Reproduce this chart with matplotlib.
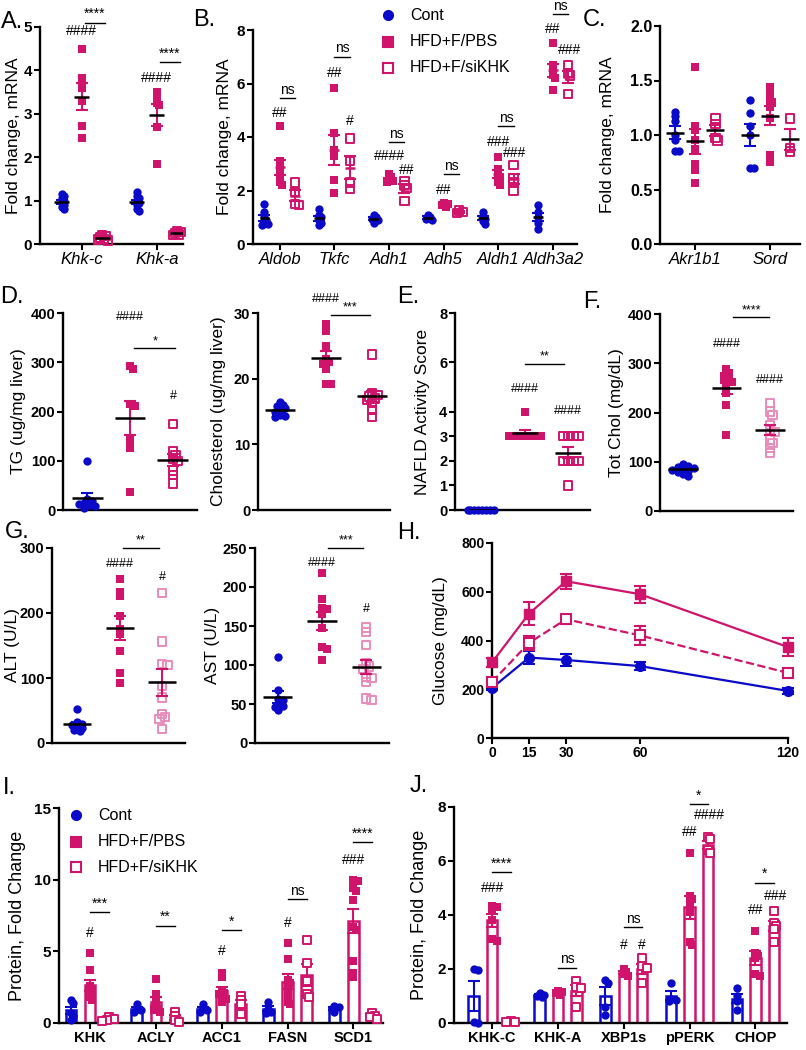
import numpy as np
import matplotlib
matplotlib.use("Agg")
import matplotlib.pyplot as plt
from matplotlib.lines import Line2D

plt.rcParams["font.family"] = ["Liberation Sans", "DejaVu Sans"]

BLUE = "#0a0ac8"
MAG = "#d0146c"
PINK = "#ea8cba"

# ---------------- data ----------------
# A. Khk isoforms, mRNA fold change
a_genes = ["Khk-c", "Khk-a"]
a_cont = [[1.15, 1.1, 1.05, 1.0, 0.95, 0.9, 0.85, 0.8],
          [1.2, 1.1, 1.05, 1.0, 0.95, 0.9, 0.8, 0.75]]
a_pbs = [[4.5, 3.82, 3.6, 3.3, 2.72, 2.45],
         [3.5, 3.35, 3.25, 3.2, 2.7, 1.85]]
a_si = [[0.2, 0.18, 0.15, 0.12, 0.1, 0.08],
        [0.3, 0.28, 0.25, 0.22, 0.2]]

# B. fructose metabolism genes
b_genes = ["Aldob", "Tkfc", "Adh1", "Adh5", "Aldh1", "Aldh3a2"]
b_cont = [[1.5, 1.2, 1.0, 0.9, 0.8, 0.75, 0.7],
          [1.3, 1.1, 1.0, 0.9, 0.8, 0.7],
          [1.1, 1.0, 0.95, 0.9, 0.8],
          [1.1, 1.0, 0.95, 0.9],
          [1.2, 1.05, 0.95, 0.85, 0.75],
          [1.45, 1.2, 1.0, 0.8, 0.55]]
b_pbs = [[4.4, 3.1, 2.9, 2.7, 2.5, 2.3, 2.2],
         [5.85, 4.15, 3.5, 3.3, 2.4, 1.9],
         [2.6, 2.5, 2.4, 2.35, 2.3],
         [1.55, 1.5, 1.45, 1.4],
         [3.25, 2.8, 2.6, 2.5, 2.3, 2.2],
         [7.5, 6.7, 6.5, 6.3, 6.2, 5.75]]
b_si = [[2.3, 1.95, 1.5, 1.45],
        [3.95, 3.1, 2.3, 2.05],
        [2.35, 2.2, 2.1, 1.6],
        [1.25, 1.2, 1.15],
        [2.95, 2.45, 2.3, 2.0],
        [6.7, 6.4, 6.3, 5.6]]

# C. polyol pathway
c_genes = ["Akr1b1", "Sord"]
c_cont = [[1.21, 1.17, 1.13, 1.0, 0.95, 0.85, 0.85],
          [1.32, 1.2, 1.08, 1.0, 0.7, 0.7]]
c_pbs = [[1.62, 1.08, 1.05, 0.95, 0.87, 0.73, 0.68, 0.56],
         [1.44, 1.38, 1.32, 1.3, 1.26, 1.16, 0.82, 0.75]]
c_si = [[1.15, 1.1, 0.95, 0.97],
        [1.15, 0.88, 0.85]]

# D. liver lipids
tg_cont = [100, 22, 18, 15, 12, 10, 8, 5]
tg_pbs = [293, 286, 216, 211, 143, 126, 37]
tg_si = [174, 119, 112, 104, 100, 80, 71, 54]
chol_cont = [16.5, 16.0, 15.8, 15.5, 15.2, 15.0, 14.5, 14.3, 14.2]
chol_pbs = [28.3, 27.3, 25.0, 23.0, 22.5, 22.3, 21.4, 19.2, 19.2]
chol_si = [23.7, 17.8, 17.5, 17.3, 17.0, 16.8, 16.3, 15.2, 14.2]

# E. NAFLD activity score
nas_cont = [0, 0, 0, 0, 0, 0, 0, 0]
nas_pbs = [4, 3, 3, 3, 3, 3, 3, 3]
nas_si = [3, 3, 3, 3, 2, 2, 2, 2, 1]

# F. plasma total cholesterol
tc_cont = [95, 92, 90, 88, 86, 84, 82, 80, 76, 72]
tc_pbs = [288, 280, 275, 270, 265, 262, 255, 240, 215, 155]
tc_si = [219, 202, 195, 175, 165, 161, 145, 138, 128, 118]

# G. liver enzymes
alt_cont = [53, 32, 30, 28, 25, 23, 20, 18]
alt_pbs = [253, 233, 226, 195, 176, 168, 142, 107, 93]
alt_si = [231, 156, 122, 120, 88, 70, 45, 40, 37, 22]
ast_cont = [110, 68, 57, 55, 50, 48, 46, 42]
ast_pbs = [218, 184, 173, 172, 165, 147, 123, 121, 106]
ast_si = [148, 142, 126, 102, 98, 95, 85, 83, 78, 57, 55]

# H. glucose tolerance
h_time = [0, 15, 30, 60, 120]
h_cont = [205, 330, 320, 295, 193]
h_cont_err = [10, 28, 25, 18, 14]
h_pbs = [310, 510, 643, 590, 373]
h_pbs_err = [20, 48, 30, 35, 38]
h_si = [230, 390, 487, 421, 267]
h_si_err = [12, 30, 15, 40, 15]

# I. lipogenic proteins
i_prot = ["KHK", "ACLY", "ACC1", "FASN", "SCD1"]
i_cont = [[1.6, 1.4, 0.7, 0.5, 0.2], [1.3, 1.0, 0.9, 0.8], [1.3, 1.0, 0.9, 0.8],
          [1.5, 1.0, 0.8, 0.7], [1.2, 1.1, 1.0, 0.8]]
i_pbs = [[4.85, 3.7, 2.6, 2.4, 2.2, 2.0, 1.8, 1.6],
         [3.05, 2.0, 1.5, 1.2, 1.0, 0.9, 0.8],
         [3.5, 3.2, 2.3, 2.1, 2.0, 1.8, 1.7, 1.5],
         [5.55, 4.45, 3.0, 2.8, 2.5, 2.0, 1.5, 1.3],
         [10.0, 9.9, 9.4, 9.2, 8.6, 6.7, 6.5, 4.3, 3.5, 3.2]]
i_si = [[0.4, 0.3, 0.2, 0.15], [0.8, 0.5, 0.2, 0.1], [1.9, 1.6, 1.3, 0.6],
        [5.8, 4.2, 2.9, 2.0, 1.8], [0.7, 0.5, 0.4, 0.3]]

# J. KHK and ER stress proteins
j_prot = ["KHK-C", "KHK-A", "XBP1s", "pPERK", "CHOP"]
j_cont = [[2.0, 1.95, 0.05, 0.0], [1.1, 1.05, 1.0, 0.95], [1.6, 1.5, 0.6, 0.3],
          [1.5, 0.9, 0.85, 0.8], [1.3, 1.0, 0.8, 0.5]]
j_pbs = [[4.35, 4.3, 4.2, 3.8, 3.1, 3.05], [1.2, 1.15, 1.1, 1.05], [2.0, 1.9, 1.8, 1.75],
         [6.3, 4.7, 4.6, 4.4, 4.1, 3.0, 2.9], [3.4, 2.6, 2.5, 2.4, 1.8, 1.75]]
j_si = [[0.08, 0.05, 0.03], [1.55, 1.35, 1.3, 0.6], [2.4, 2.1, 2.05, 1.5],
        [6.9, 6.8, 6.4, 6.3], [4.15, 3.7, 3.6, 3.5, 3.0]]

# ---------------- helpers ----------------
W, H = 806, 1050
fig = plt.figure(figsize=(W / 100, H / 100), dpi=100)


def make_ax(x0, x1, y0, y1, ylim, yticks, ylabel, lab_x, xlim,
            tick_fs=10.5, lab_fs=12.5, fmt="{:g}"):
    ax = fig.add_axes([x0 / W, 1 - y1 / H, (x1 - x0) / W, (y1 - y0) / H])
    ax.spines[["top", "right"]].set_visible(False)
    ax.spines[["left", "bottom"]].set_linewidth(1.7)
    ax.tick_params(width=1.5, length=4, pad=1.5)
    ax.set_ylim(*ylim)
    ax.set_xlim(*xlim)
    ax.set_yticks(yticks, [fmt.format(t) for t in yticks],
                  fontweight="bold", fontsize=tick_fs)
    ax.set_xticks([])
    ax.set_ylabel(ylabel, fontsize=lab_fs)
    ax.yaxis.set_label_coords((lab_x + 9 - x0) / (x1 - x0), 0.5)
    return ax


def swarm_x(ax, xc, vals, dot=8.0, min_frac=0.5, step_frac=0.33):
    vals = np.asarray(vals, float)
    pts = ax.transData.transform(np.column_stack([np.full(len(vals), xc), vals]))
    cx0, ys = pts[0, 0], pts[:, 1]
    placed, xs = [], np.empty(len(vals))
    for i in np.argsort(-vals, kind="stable"):
        for k in [0, 1, -1, 2, -2, 3, -3, 4, -4, 5, -5, 6, -6, 7, -7]:
            cx = cx0 + k * dot * step_frac
            if all(np.hypot(cx - px, ys[i] - py) >= dot * min_frac for px, py in placed):
                break
        placed.append((cx, ys[i]))
        xs[i] = cx
    return ax.transData.inverted().transform(np.column_stack([xs, ys]))[:, 0]


def dots(ax, xc, vals, color, marker, filled, hw, mean_color="black",
         err_color=None, ms=6, cap=4, tight=False):
    vals = np.asarray(vals, float)
    if tight:
        xs = swarm_x(ax, xc, vals, min_frac=0.35, step_frac=0.25)
    else:
        xs = swarm_x(ax, xc, vals)
    ax.scatter(xs, vals, s=ms ** 2, marker=marker,
               facecolors=color if filled else "none", edgecolors=color,
               linewidths=0 if filled else 1.4, zorder=3, clip_on=False)
    m = vals.mean()
    se = vals.std(ddof=1) / np.sqrt(len(vals))
    ax.errorbar([xc], [m], yerr=[se], color=err_color or color, lw=1.5,
                capsize=cap, capthick=1.5, zorder=4)
    ax.plot([xc - hw, xc + hw], [m, m], color=mean_color, lw=1.8, zorder=5,
            solid_capstyle="butt")


def bars(ax, xc, vals, color, marker, filled, width):
    vals = np.asarray(vals, float)
    m = vals.mean()
    se = vals.std(ddof=1) / np.sqrt(len(vals))
    ax.bar(xc, m, width=width, facecolor="white", edgecolor=color, lw=1.8, zorder=2)
    ax.errorbar([xc], [m], yerr=[se], color=color, lw=1.5, capsize=4,
                capthick=1.5, zorder=3)
    xs = swarm_x(ax, xc, vals, dot=8.0, min_frac=0.4, step_frac=0.28)
    ax.scatter(xs, vals, s=36, marker=marker,
               facecolors=color if filled else "white", edgecolors=color,
               linewidths=0 if filled else 1.4, zorder=4, clip_on=False)


def hashmark(ax, x, y, s, fs=10):
    ax.text(x, y, s, ha="center", va="center", fontsize=fs, clip_on=False)


def bracket(ax, x1, x2, y, s, fs=10):
    ax.plot([x1, x2], [y, y], color="black", lw=1, clip_on=False)
    ax.annotate(s, ((x1 + x2) / 2, y), xytext=(0, 1), textcoords="offset points",
                ha="center", va="bottom", fontsize=fs, annotation_clip=False)


def letter(x, y, s):
    fig.text(x / W, 1 - y / H, s, fontsize=17, ha="left", va="center")


def legend_at(x_m, x_t, ys, fs=11.5):
    items = [("o", BLUE, BLUE, "Cont"), ("s", MAG, MAG, "HFD+F/PBS"),
             ("s", "none", MAG, "HFD+F/siKHK")]
    for (mk, fc, ec, lab), y in zip(items, ys):
        fig.add_artist(Line2D([x_m / W], [1 - y / H], marker=mk, ms=6.5, mfc=fc,
                              mec=ec, mew=1.5, ls="none",
                              transform=fig.transFigure))
        fig.text(x_t / W, 1 - y / H, lab, fontsize=fs, va="center")


def gene_panel(ax, genes, cont, pbs, si, off, hw, mean_pbs="black"):
    ax.set_xticks(range(len(genes)), genes, fontstyle="italic", fontsize=12)
    for i in range(len(genes)):
        dots(ax, i - off, cont[i], BLUE, "o", True, hw, mean_color="black", tight=True)
        dots(ax, i, pbs[i], MAG, "s", True, hw, mean_color=mean_pbs, tight=True)
        dots(ax, i + off, si[i], MAG, "s", False, hw, mean_color=mean_pbs, tight=True)


# ---------------- A ----------------
ax = make_ax(40, 183, 27, 244, (0, 5), [0, 1, 2, 3, 4, 5], "Fold change, mRNA", 12,
             (-0.56, 1.35), tick_fs=11)
gene_panel(ax, a_genes, a_cont, a_pbs, a_si, 0.27, 0.1)
hashmark(ax, 0, 4.9, "####")
bracket(ax, 0.04, 0.31, 5.1, "****")
hashmark(ax, 1, 3.83, "####")
bracket(ax, 1.04, 1.31, 4.2, "****")
letter(1, 22, "A.")

# ---------------- B ----------------
ax = make_ax(253, 577, 30, 244, (0, 8), [0, 2, 4, 6, 8], "Fold change, mRNA", 223,
             (-0.49, 5.44), tick_fs=11)
gene_panel(ax, b_genes, b_cont, b_pbs, b_si, 0.28, 0.09, mean_pbs=MAG)
for x, y, s in [(0, 4.9, "##"), (1, 6.4, "##"), (1.28, 4.6, "#"), (2, 3.3, "####"),
                (2.33, 2.75, "##"), (3, 2.0, "##"), (4, 3.8, "###"),
                (4.3, 3.4, "###"), (5, 8.05, "##"), (5.3, 7.26, "###")]:
    hashmark(ax, x, y, s)
for i, y in enumerate([5.45, 7.0, 3.8, 2.6, 4.4, 8.6]):
    bracket(ax, i, i + 0.28, y, "ns")
legend_at(388, 410, [15, 42, 68])
letter(193, 20, "B.")

# ---------------- C ----------------
ax = make_ax(660, 800, 26, 244, (0, 2), [0, 0.5, 1.0, 1.5, 2.0], "Fold change, mRNA",
             606, (-0.47, 1.4), tick_fs=11.5, fmt="{:.1f}")
gene_panel(ax, c_genes, c_cont, c_pbs, c_si, 0.27, 0.12)
letter(583, 20, "C.")

# ---------------- D ----------------
ax = make_ax(63, 197, 313, 510, (0, 400), [0, 100, 200, 300, 400], "TG (ug/mg liver)",
             17, (-0.56, 2.56))
dots(ax, 0, tg_cont, BLUE, "o", True, 0.36)
dots(ax, 1, tg_pbs, MAG, "s", True, 0.36)
dots(ax, 2, tg_si, MAG, "s", False, 0.36)
hashmark(ax, 1, 391, "####", 9)
hashmark(ax, 2, 232, "#", 9)
bracket(ax, 1.1, 2.05, 328, "*", 9)
letter(0, 297, "D.")

ax = make_ax(258, 390, 313, 510, (0, 30), [0, 10, 20, 30], "Cholesterol (ug/mg liver)",
             217, (-0.48, 2.39))
dots(ax, 0, chol_cont, BLUE, "o", True, 0.33)
dots(ax, 1, chol_pbs, MAG, "s", True, 0.33)
dots(ax, 2, chol_si, MAG, "s", False, 0.33)
hashmark(ax, 1, 32.2, "####", 9)
bracket(ax, 1.1, 1.95, 29.7, "***", 9)

# ---------------- E ----------------
ax = make_ax(455, 590, 313, 510, (0, 8), [0, 1, 2, 3, 4, 6, 8], "NAFLD Activity Score",
             421, (-0.63, 2.51))
dots(ax, 0, nas_cont, BLUE, "o", True, 0.3, tight=True)
dots(ax, 1, nas_pbs, MAG, "s", True, 0.3)
dots(ax, 2, nas_si, MAG, "s", False, 0.3)
hashmark(ax, 1, 4.9, "####", 9)
hashmark(ax, 2, 4.03, "####", 9)
bracket(ax, 1.0, 1.9, 5.93, "**", 9)
letter(397, 297, "E.")

# ---------------- F ----------------
ax = make_ax(660, 793, 314, 511, (0, 400), [0, 100, 200, 300, 400], "Tot Chol (mg/dL)",
             615, (-0.53, 2.53))
dots(ax, 0, tc_cont, BLUE, "o", True, 0.34)
dots(ax, 1, tc_pbs, MAG, "s", True, 0.34)
dots(ax, 2, tc_si, PINK, "s", False, 0.34, err_color=MAG)
hashmark(ax, 1, 339, "####", 9)
hashmark(ax, 2, 267, "####", 9)
bracket(ax, 1.15, 1.98, 393, "****", 9)
letter(583, 302, "F.")

# ---------------- G ----------------
ax = make_ax(52, 185, 548, 743, (0, 300), [0, 100, 200, 300], "ALT (U/L)", 11,
             (-0.59, 2.54))
dots(ax, 0, alt_cont, BLUE, "o", True, 0.33)
dots(ax, 1, alt_pbs, MAG, "s", True, 0.33)
dots(ax, 2, alt_si, PINK, "s", False, 0.33, err_color=MAG)
hashmark(ax, 1, 276, "####", 9)
hashmark(ax, 2, 255, "#", 9)
bracket(ax, 1.08, 1.93, 300, "**", 9)
letter(5, 532, "G.")

ax = make_ax(255, 389, 548, 743, (0, 250), [0, 50, 100, 150, 200, 250], "AST (U/L)", 211,
             (-0.52, 2.52))
dots(ax, 0, ast_cont, BLUE, "o", True, 0.33)
dots(ax, 1, ast_pbs, MAG, "s", True, 0.33)
dots(ax, 2, ast_si, PINK, "s", False, 0.33, err_color=MAG)
hashmark(ax, 1, 231, "####", 9)
hashmark(ax, 2, 172, "#", 9)
bracket(ax, 1.14, 1.93, 250, "***", 9)

# ---------------- H ----------------
ax = make_ax(492, 788, 543, 738, (0, 800), [0, 200, 400, 600, 800], "Glucose (mg/dL)",
             439, (0, 120), tick_fs=10)
ax.set_xticks(h_time, [str(t) for t in h_time], fontweight="bold", fontsize=10)
ax.errorbar(h_time, h_cont, yerr=h_cont_err, color=BLUE, lw=1.6, marker="o", ms=7,
            capsize=4, capthick=1.5, zorder=4, clip_on=False)
ax.errorbar(h_time, h_pbs, yerr=h_pbs_err, color=MAG, lw=1.6, marker="s", ms=7,
            capsize=4, capthick=1.5, zorder=4, clip_on=False)
ax.errorbar(h_time, h_si, yerr=h_si_err, color=MAG, lw=1.6, ls="--", marker="s", ms=7,
            mfc="white", mew=1.5, capsize=4, capthick=1.5, zorder=4, clip_on=False)
letter(397, 533, "H.")

# ---------------- I ----------------
ax = make_ax(59, 383, 808, 1023, (0, 15), [0, 5, 10, 15], "Protein, Fold Change", 17,
             (-0.47, 4.45), tick_fs=11, lab_fs=13)
ax.set_xticks(range(len(i_prot)), i_prot, fontweight="bold", fontsize=10.5)
for i in range(len(i_prot)):
    bars(ax, i - 0.29, i_cont[i], BLUE, "o", True, 0.16)
    bars(ax, i, i_pbs[i], MAG, "s", True, 0.16)
    bars(ax, i + 0.29, i_si[i], MAG, "s", False, 0.16)
for x, y, s in [(0, 6.3, "#"), (2, 5.0, "#"), (3, 7.0, "#"), (4, 11.4, "###")]:
    hashmark(ax, x, y, s)
for i, y, s in [(0, 7.75, "***"), (1, 6.8, "**"), (2, 6.5, "*"), (3, 8.65, "ns"),
                (4, 12.6, "****")]:
    bracket(ax, i, i + 0.29, y, s)
legend_at(76, 98, [815, 842, 867])
letter(3, 788, "I.")

# ---------------- J ----------------
ax = make_ax(454, 787, 807, 1023, (0, 8), [0, 2, 4, 6, 8], "Protein, Fold Change", 419,
             (-0.58, 4.48), tick_fs=11, lab_fs=13)
ax.set_xticks(range(len(j_prot)), j_prot, fontweight="bold", fontsize=10.5)
for i in range(len(j_prot)):
    bars(ax, i - 0.28, j_cont[i], BLUE, "o", True, 0.16)
    bars(ax, i, j_pbs[i], MAG, "s", True, 0.16)
    bars(ax, i + 0.28, j_si[i], MAG, "s", False, 0.16)
for x, y, s in [(0, 5.0, "###"), (2, 2.9, "#"), (2.28, 2.9, "#"), (3, 7.07, "##"),
                (3.3, 7.7, "####"), (4, 4.2, "##"), (4.3, 4.7, "###")]:
    hashmark(ax, x, y, s)
for i, y, s in [(0, 5.6, "****"), (1, 2.05, "ns"), (2, 3.55, "ns"), (3, 8.1, "*"),
                (4, 5.2, "*")]:
    bracket(ax, i, i + 0.28, y, s)
letter(410, 786, "J.")

fig.savefig("out.png", dpi=100)
